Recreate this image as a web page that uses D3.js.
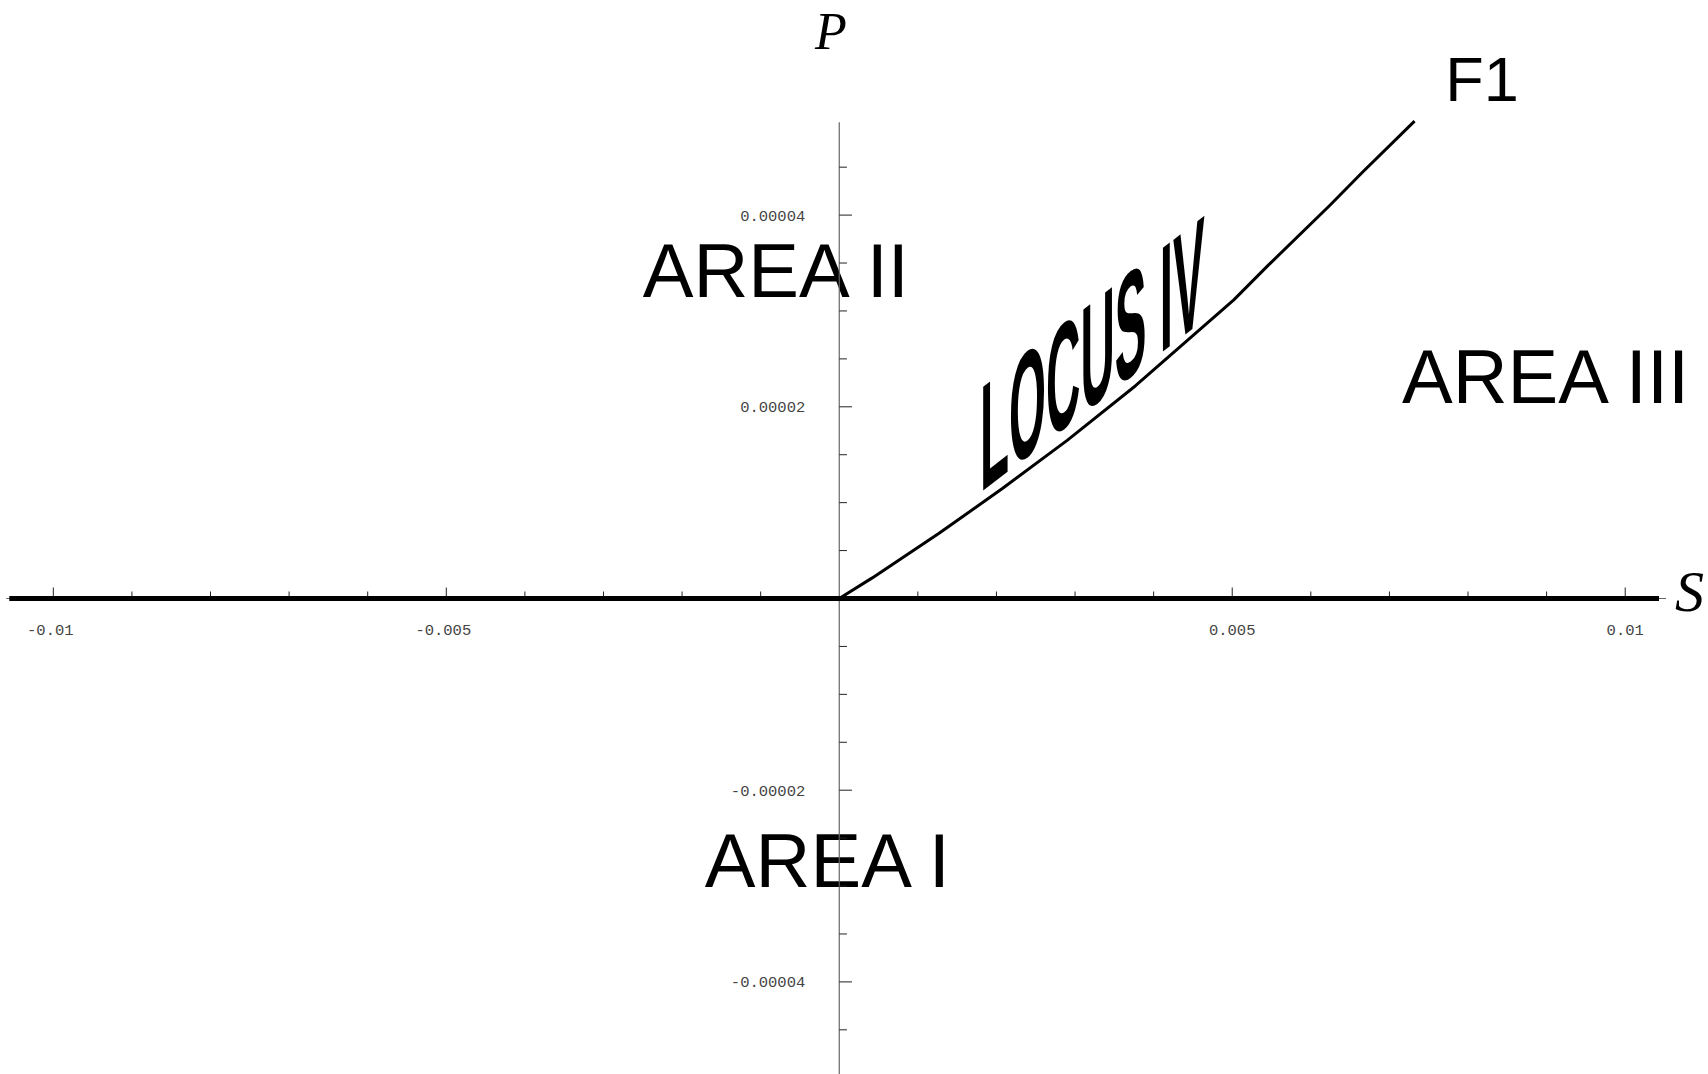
<!DOCTYPE html>
<html>
<head>
<meta charset="utf-8">
<script src="https://cdn.jsdelivr.net/npm/d3@7"></script>
<style>
  body { margin: 0; background: #fff; }
</style>
</head>
<body>
<div id="chart"></div>
<script>
// locus F1
const locusS = [0, 0.00042, 0.00127, 0.00208, 0.00290, 0.00377, 0.00502, 0.00545, 0.00624, 0.00666, 0.00732];
const locusP = [0, 0.00000215, 0.0000068, 0.0000115, 0.0000165, 0.0000222, 0.00003115, 0.0000347, 0.000041, 0.0000445, 0.0000498];
// the thick P = 0 branch
const baseS = [-0.01056, 0.01043];
const baseP = [0, 0];

const sMajorTicks = [-0.01, -0.005, 0.005, 0.01];
const sTickLabels = ['-0.01', '-0.005', '0.005', '0.01'];
const pMajorTicks = [-0.00004, -0.00002, 0.00002, 0.00004];
const pTickLabels = ['-0.00004', '-0.00002', '0.00002', '0.00004'];
const sMinorTicks = d3.range(-10, 11).filter(d => d % 5 !== 0).map(d => d / 1000);
const pMinorTicks = d3.range(-9, 10).filter(d => d % 4 !== 0).map(d => d * 0.000005);

const areaNames = ['AREA I', 'AREA II', 'AREA III'];

const width = 1708;
const height = 1074;

const svg = d3.select('#chart')
    .append('svg')
        .attr('width', width)
        .attr('height', height);

const x = d3.scaleLinear()
    .domain([-0.01056, 0.01043])
    .range([9.3, 1659]);
const y = d3.scaleLinear()
    .domain([-0.00005, 0.00005])
    .range([598.5 + 479.25, 598.5 - 479.25]);

const bigFont = 'Liberation Sans, Arial, sans-serif';

// region labels first, axes are drawn over them
const areaPos = [[-0.00171, -0.0000301], [-0.0025, 0.00003146], [0.00716, 0.0000204]];
svg.selectAll('text.area')
    .data(areaNames)
    .join('text')
        .attr('class', 'area')
        .attr('x', (d, i) => x(areaPos[i][0]))
        .attr('y', (d, i) => y(areaPos[i][1]))
        .attr('font-family', bigFont)
        .attr('font-size', 76)
        .attr('fill', '#000')
        .text(d => d);

svg.append('text')
    .attr('x', x(0.00771))
    .attr('y', y(0.0000519))
    .attr('font-family', bigFont)
    .attr('font-size', 63)
    .text('F1');

// slanted, condensed LOCUS IV
svg.append('text')
    .attr('transform', `translate(${x(0.00179)},${y(0.000011)}) skewY(-37.7) scale(0.476,1.51)`)
    .attr('font-family', bigFont)
    .attr('font-weight', 'bold')
    .attr('font-size', 100)
    .text('LOCUS IV');

// y axis
svg.append('line')
    .attr('x1', x(0)).attr('x2', x(0))
    .attr('y1', y(0.0000497)).attr('y2', height)
    .attr('stroke', '#666')
    .attr('stroke-width', 1.2);

const tickColor = '#222';
svg.selectAll('line.pminor')
    .data(pMinorTicks)
    .join('line')
        .attr('class', 'pminor')
        .attr('x1', x(0)).attr('x2', x(0) + 7.7)
        .attr('y1', d => y(d)).attr('y2', d => y(d))
        .attr('stroke', tickColor);
svg.selectAll('line.pmajor')
    .data(pMajorTicks)
    .join('line')
        .attr('class', 'pmajor')
        .attr('x1', x(0)).attr('x2', x(0) + 12.7)
        .attr('y1', d => y(d)).attr('y2', d => y(d))
        .attr('stroke', tickColor);
svg.selectAll('text.plabel')
    .data(pMajorTicks)
    .join('text')
        .attr('class', 'plabel')
        .attr('x', x(0) - 34)
        .attr('y', d => y(d))
        .attr('dy', '0.35em')
        .attr('text-anchor', 'end')
        .attr('font-family', 'Liberation Mono, Courier New, monospace')
        .attr('font-size', 15.5)
        .attr('fill', '#444')
        .text((d, i) => pTickLabels[i]);

// x axis: thin axis stub plus thick P = 0 line
svg.append('line')
    .attr('x1', x(-0.0106)).attr('x2', 1666)
    .attr('y1', y(0)).attr('y2', y(0))
    .attr('stroke', '#666')
    .attr('stroke-width', 1.2);

svg.selectAll('line.sminor')
    .data(sMinorTicks)
    .join('line')
        .attr('class', 'sminor')
        .attr('x1', d => x(d)).attr('x2', d => x(d))
        .attr('y1', y(0)).attr('y2', y(0) - 7)
        .attr('stroke', tickColor);
svg.selectAll('line.smajor')
    .data(sMajorTicks)
    .join('line')
        .attr('class', 'smajor')
        .attr('x1', d => x(d)).attr('x2', d => x(d))
        .attr('y1', y(0)).attr('y2', y(0) - 11)
        .attr('stroke', tickColor);
svg.selectAll('text.slabel')
    .data(sMajorTicks)
    .join('text')
        .attr('class', 'slabel')
        .attr('x', d => x(d) - (d < 0 ? 3 : 0))
        .attr('y', y(0) + 36)
        .attr('text-anchor', 'middle')
        .attr('font-family', 'Liberation Mono, Courier New, monospace')
        .attr('font-size', 15.5)
        .attr('fill', '#444')
        .text((d, i) => sTickLabels[i]);

const line = d3.line()
    .x(d => x(d[0]))
    .y(d => y(d[1]));

svg.append('path')
    .datum(d3.zip(baseS, baseP))
    .attr('d', line)
    .attr('fill', 'none')
    .attr('stroke', '#000')
    .attr('stroke-width', 5);

svg.append('path')
    .datum(d3.zip(locusS, locusP))
    .attr('d', line)
    .attr('fill', 'none')
    .attr('stroke', '#000')
    .attr('stroke-width', 3)
    .attr('stroke-linejoin', 'round');

// axis names
svg.append('text')
    .attr('x', 815)
    .attr('y', 49)
    .attr('font-family', 'Liberation Serif, Times New Roman, serif')
    .attr('font-style', 'italic')
    .attr('font-size', 52)
    .text('P');

svg.append('text')
    .attr('x', 1675)
    .attr('y', 611)
    .attr('font-family', 'Liberation Serif, Times New Roman, serif')
    .attr('font-style', 'italic')
    .attr('font-size', 58)
    .text('S');
</script>
</body>
</html>
